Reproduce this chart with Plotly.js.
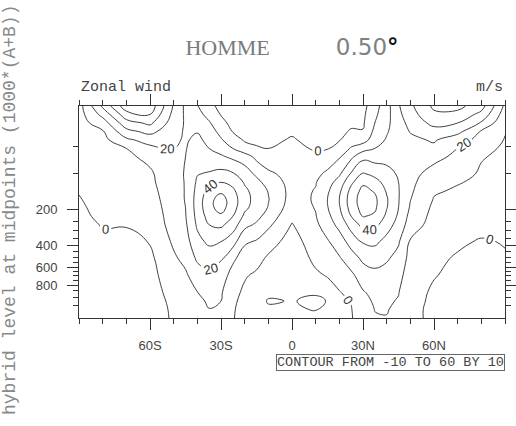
<!DOCTYPE html>
<html><head><meta charset="utf-8">
<script src="https://cdn.plot.ly/plotly-3.0.1.min.js"></script>
<style>html,body{margin:0;padding:0;background:#fff}#chart{width:516px;height:426px}</style>
</head><body><div id="chart"></div>
<script>
// Latitudes (deg, negative = south) of the data columns
const latitudes = [-90,-80,-70,-60,-50,-45,-40,-35,-30,-25,-20,-15,-10,0,10,15,20,25,30,35,40,45,50,60,70,80,90];
// model level numbers of the data rows (0 = top)
const levelIndex = [0,1,2,3,4,5,6,8,9,10,11,12,13,14,16,18,20,22,23,24,25];
// hybrid level at midpoints (1000*(A+B)) for each model level
const hybridMidLevels = [3.54,7.39,13.97,23.94,37.23,53.11,70.06,85.44,100.51,118.25,139.12,163.67,192.56,226.54,266.51,313.50,368.82,433.90,510.46,600.52,696.80,787.70,867.16,929.65,970.55,992.56];
const yTickLevels = [200,400,600,800];
const yMinorLevels = [50,100,250,300,350,450,500,550,650,700,750,850,900,950];
const xTickVals = [-60,-30,0,30,60];
const xTickText = ['60S','30S','0','30N','60N'];
// zonal wind (m/s): one vertical profile (levelIndex rows) per latitude
const windByLat = [
 [6,6,6,5.5,5,4.5,4,3,2,0.5,-0.5,-1.5,-2.2,-2.8,-3.5,-3.5,-3.5,-3,-3,-2.5,-2.5],
 [32,23,15,9,7,6,5.5,5,4.5,4,3.5,3,2,0.5,-1.5,-2.5,-3,-3,-3,-2.5,-2.5],
 [56,46,36,27,18,10,8,7,6.5,6,5,4,2.5,0.3,-1.5,-2.5,-3,-3,-3,-2.5,-2],
 [56,50,42,33,24,17.5,12.5,8.5,8,7,6,5,4,3,0.3,-2,-3,-3,-3,-2.5,-2],
 [29,27,25,23,21.5,20,19,17.5,16.5,16,15.5,15,14.5,14,11.5,8.5,5.5,2.5,1.5,0.8,0.5],
 [18,18.5,19,19,19,19.5,20,20.5,20.5,20.5,20.5,20,19.5,18.5,16,12.5,8.5,5,4,3.5,3],
 [10.5,13,16,19.5,22,24,26,29.5,31.5,33,34,34,33,31.5,27,21.5,15,9.8,9,8.5,8],
 [3,7,11,14.5,17.5,20,23,31,37,43,47,47,44,40,32,24,18,13,10.6,9.9,9.6],
 [-3,-0.5,3,7,11,16,21.5,33,40,48,54,54,48,42,30,21,15,11,10,9.2,9],
 [-7,-5.5,-3,-0.5,4.5,10,18,31,37,42,45,44,40,35,24,12,6,2.5,1.5,0.8,0.5],
 [-8,-7,-5.5,-3.5,-1,3.5,15,25,29,32,33,32,28,23,11.5,5,0.8,-1.5,-2.5,-3,-3],
 [-8,-8,-6.5,-4.5,-2,1,7.5,18,23,26,27,26,23,18.5,9,3,-1.5,-4.5,-5.5,-6,-6],
 [-8,-8,-7,-5,-2.5,0,3.5,12,16,19.5,20.5,19.5,16,12,4,-1.5,-4.5,-8,-10.8,-8.5,-7.5],
 [-8,-7,-4.5,-1.5,1,2.5,4,6,6.5,6.5,6,4.5,2,-0.5,-4,-6,-7.5,-9,-9.6,-9.5,-9],
 [-8,-8,-7,-5.5,-3.5,-1,2.5,7.5,9.5,10.5,11,10.5,9.5,8,5,2,-1.5,-9.2,-11.5,-10.2,-9],
 [-8,-7.5,-6,-4.5,-2.5,-0.5,4,12,16,18.5,20,19.5,17.5,15,9,4.5,0.5,-4,-9.7,-7.5,-6.5],
 [-7,-6,-4.5,-2.5,-0.5,3,9,18.5,24,28,30,29,26.5,23,15,9,3.5,-0.5,-2,-3,-3],
 [-5,-3.5,-2,1,5,11,18,31,38,43,45,44,40,34,24,15,8,2.5,0.5,-0.5,-1],
 [-3,-2,-1.2,0.5,6,16,27,41,48,53,55,54,50.5,43,31,22,14.5,9.2,8.2,7.6,7.2],
 [6,8,10,12.5,15,20,26,37,44,49,52,51.5,48.5,43,32,24,17,12.5,10.8,10.1,9.7],
 [16,16.5,17.5,19,21,24,27,33,36,39,41,40.5,38,34,27,21,16.5,12.5,11,10.3,9.8],
 [29,27.5,26,25.5,25.5,26,27,29,30,30.5,30.5,30,28.5,26.5,21,17,13,10.3,9.5,8.8,8.5],
 [38,36,33,30.5,28,26.5,25,23.5,22.5,21.5,20.3,19,17,15,9,6.5,5,4,3.5,3,3],
 [52,48,43,36,31,28,23,16,13,11,9.5,8,7,6,4,2,0.5,-1.5,-2,-2.5,-2.5],
 [53,47,40,33,24,20,17.5,13,10.5,9,8,6.5,5,3.5,1.5,-1,-2.5,-3,-3,-3,-3],
 [44,37,29,19,17,12,10.5,9,8.5,7.5,6.5,5.5,4.5,3,-0.8,-1.5,-2,-2.5,-2.5,-2.5,-2],
 [18,15,12,10.5,9.5,9,8.5,7,6,5,4.5,4,3,2,0.5,-0.8,-1.5,-2,-2,-2,-2]
];
const contourMin = -10, contourMax = 60, contourStep = 10;

function levelToIndex(p){
  const L = hybridMidLevels;
  for (let i=0;i<L.length-1;i++){
    if (p>=L[i] && p<=L[i+1]) return i + (p-L[i])/(L[i+1]-L[i]);
  }
  return p < L[0] ? 0 : L.length-1;
}

const lineStyle = {color:'#2b2b2b', width:0.9, smoothing:1.3};
const base = {type:'contour', x:latitudes, y:levelIndex, z:windByLat, transpose:true,
  showscale:false, hoverinfo:'skip', line:lineStyle};
const labelled = Object.assign({}, base, {
  contours:{coloring:'none', start:0, end:contourMax, size:2*contourStep, showlabels:true,
    labelfont:{family:'Liberation Sans', size:13, color:'#333'}}
});
const plain = Object.assign({}, base, {
  contours:{coloring:'none', start:contourMin, end:contourMax-contourStep, size:2*contourStep, showlabels:false}
});

const axisCommon = {showline:true, linecolor:'#333', linewidth:1, mirror:'allticks', ticks:'outside',
  ticklen:11, tickwidth:1, tickcolor:'#333', showgrid:false, zeroline:false,
  tickfont:{family:'Liberation Sans', size:13, color:'#444'}};

const layout = {
  width:516, height:426,
  margin:{l:79, r:11, t:106, b:108},
  paper_bgcolor:'#fff', plot_bgcolor:'#fff', showlegend:false,
  title:{text:'HOMME&nbsp;&nbsp;&nbsp;&nbsp;&nbsp;&nbsp;&nbsp;&nbsp;&nbsp;&nbsp;&nbsp;&nbsp;<span style="font-family:DejaVu Sans;font-size:23px;fill:#808080">0.50<span style="fill:#111"><b>°</b></span></span>',
    font:{family:'Liberation Serif', size:22, color:'#7a7a7a'},
    x:0.5, xref:'paper', xanchor:'center', y:1-47/426, yref:'container', yanchor:'middle'},
  xaxis: Object.assign({}, axisCommon, {range:[-90,90], tickmode:'array', tickvals:xTickVals, ticktext:xTickText,
    ticklabelstandoff:4,
    minor:{dtick:10, tick0:0, ticks:'outside', ticklen:5, tickwidth:1, tickcolor:'#333'}}),
  yaxis: Object.assign({}, axisCommon, {range:[25,0], tickmode:'array',
    tickvals:yTickLevels.map(levelToIndex), ticktext:yTickLevels.map(String), ticklabelstandoff:7,
    minor:{tickmode:'array', tickvals:yMinorLevels.map(levelToIndex), ticks:'outside', ticklen:5, tickwidth:1, tickcolor:'#333'}}),
  annotations:[
    {xref:'paper', yref:'paper', x:0, y:1+18/212, xanchor:'left', yanchor:'middle', showarrow:false,
     text:'Zonal wind', font:{family:'Liberation Mono', size:15, color:'#444'}},
    {xref:'paper', yref:'paper', x:1, y:1+18/212, xanchor:'right', yanchor:'middle', showarrow:false,
     text:'m/s', font:{family:'Liberation Mono', size:15, color:'#444'}},
    {xref:'paper', yref:'paper', x:(10-79)/426, y:(318-210)/212, xanchor:'center', yanchor:'middle', showarrow:false,
     textangle:-90, text:'hybrid level at midpoints (1000*(A+B))', font:{family:'Liberation Mono', size:18, color:'#888'}},
    {xref:'paper', yref:'paper', x:1, y:(318-362)/212, xanchor:'right', yanchor:'middle', showarrow:false,
     text:'CONTOUR FROM '+contourMin+' TO '+contourMax+' BY '+contourStep, bordercolor:'#666', borderwidth:1, borderpad:0,
     font:{family:'Liberation Mono', size:13.5, color:'#444'}}
  ]
};
Plotly.newPlot('chart', [plain, labelled], layout, {displayModeBar:false, staticPlot:true});
</script></body></html>
